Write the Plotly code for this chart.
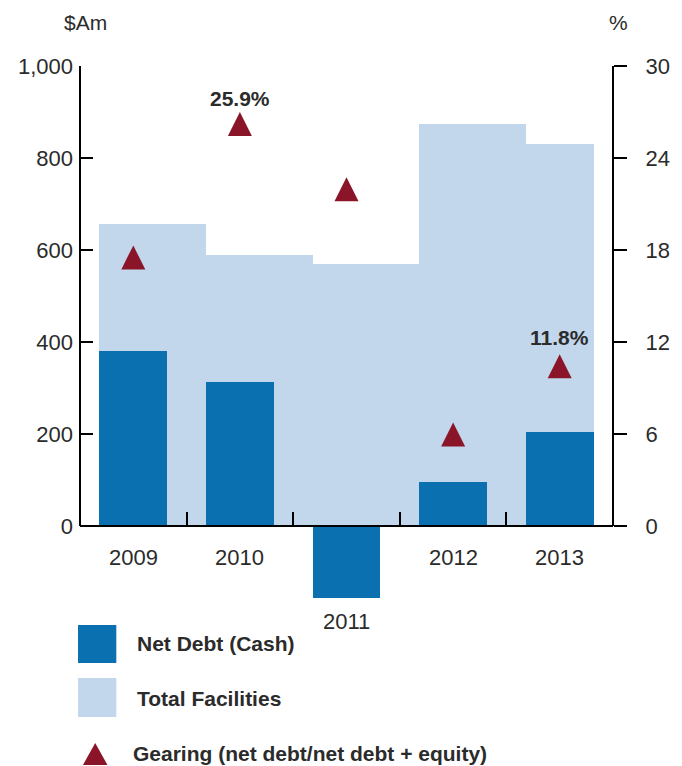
import plotly.graph_objects as go

# ---- data ----
years = ["2009", "2010", "2011", "2012", "2013"]
net_debt = [381, 312, -157, 95, 205]            # $Am
total_facilities = [657, 589, 570, 875, 831]    # $Am
gearing = [18.3, 27.0, 22.75, 6.75, 11.2]       # % (read at triangle tip)
gearing_labels = {1: "25.9%", 4: "11.8%"}
left_ticks = [0, 200, 400, 600, 800, 1000]
left_ticktext = ["0", "200", "400", "600", "800", "1,000"]
right_ticks = [0, 6, 12, 18, 24, 30]

# ---- style ----
DARK = "#0a70b0"
LIGHT = "#c2d7ec"
RED = "#8a1529"
TXT = "#2b2b2b"
FONT = "Liberation Sans, Arial, sans-serif"

W, Hfig = 682, 766
# on-screen plot area: x 80..623, y 66..618
L, T = 80, 66
R = W - 623
B = Hfig - 618
PW, PH = W - L - R, Hfig - T - B

def px_x(px):
    return (px - L) / PW

def px_y(py):
    return (T + PH - py) / PH

n = len(years)
xs = list(range(n))
bw = 0.635
light_w = [1.0] * (n - 1) + [bw]

fig = go.Figure()
fig.add_trace(go.Bar(x=xs, y=total_facilities, width=light_w, offset=-bw / 2,
                     marker=dict(color=LIGHT, line=dict(width=0)),
                     name="Total Facilities", showlegend=False))
fig.add_trace(go.Bar(x=xs, y=net_debt, width=bw,
                     marker=dict(color=DARK, line=dict(width=0)),
                     name="Net Debt (Cash)", showlegend=False))
fig.add_trace(go.Scatter(x=xs, y=gearing, mode="markers", yaxis="y2",
                         marker=dict(symbol="arrow-up", size=24, color=RED,
                                     line=dict(width=0)),
                         name="Gearing", showlegend=False, cliponaxis=False))

ymin, ymax = -200, 1000
y2min, y2max = -6, 30

fig.update_layout(
    width=W, height=Hfig,
    margin=dict(l=L, r=R, t=T, b=B, pad=0),
    paper_bgcolor="white", plot_bgcolor="white",
    barmode="overlay", bargap=0,
    font=dict(family=FONT, color=TXT, size=22),
    xaxis=dict(range=[-0.5, 4.5], anchor="free",
               position=(0 - ymin) / (ymax - ymin),
               showline=True, linecolor="black", linewidth=2,
               tickmode="array", tickvals=[i + 0.5 for i in range(n - 1)],
               ticks="inside", ticklen=13, tickwidth=2, tickcolor="black",
               showticklabels=False, showgrid=False, zeroline=False),
    yaxis=dict(range=[ymin, ymax], tickmode="array", tickvals=left_ticks,
               ticktext=left_ticktext, ticks="inside", ticklen=13,
               tickwidth=2, tickcolor="black", showline=False,
               showgrid=False, zeroline=False, ticklabelstandoff=6,
               tickfont=dict(size=22, color=TXT)),
    yaxis2=dict(range=[y2min, y2max], overlaying="y", side="right",
                tickmode="array", tickvals=right_ticks, ticks="outside",
                ticklen=13, tickwidth=2, tickcolor="black", showline=False,
                showgrid=False, zeroline=False, ticklabelstandoff=14,
                tickfont=dict(size=22, color=TXT)),
)

# axis lines limited to 0..max
fig.add_shape(type="line", xref="paper", yref="y", x0=0, x1=0, y0=0, y1=ymax,
              line=dict(color="black", width=2), layer="above")
fig.add_shape(type="line", xref="paper", yref="y", x0=1, x1=1, y0=0, y1=ymax,
              line=dict(color="black", width=2), layer="above")

# year labels
for i, yr in enumerate(years):
    if net_debt[i] < 0:
        fig.add_annotation(x=i, y=net_debt[i], xref="x", yref="y", text=yr,
                           showarrow=False, yanchor="middle", yshift=-23,
                           font=dict(size=22, color=TXT))
    else:
        fig.add_annotation(x=i, y=0, xref="x", yref="y", text=yr,
                           showarrow=False, yanchor="middle", yshift=-31,
                           font=dict(size=22, color=TXT))

# gearing value labels
for i, lab in gearing_labels.items():
    fig.add_annotation(x=i, y=gearing[i], xref="x", yref="y2", text="<b>" + lab + "</b>",
                       showarrow=False, yanchor="middle",
                       yshift=14 if i == 1 else 17,
                       font=dict(size=21, color=TXT))

# axis titles
fig.add_annotation(x=px_x(86), y=px_y(22), xref="paper", yref="paper", text="$Am",
                   showarrow=False, xanchor="center", yanchor="middle",
                   font=dict(size=21, color=TXT))
fig.add_annotation(x=px_x(629), y=px_y(22), xref="paper", yref="paper", text="%",
                   showarrow=False, xanchor="center", yanchor="middle",
                   font=dict(size=21, color=TXT))

# custom legend
fig.add_shape(type="rect", xref="paper", yref="paper",
              x0=px_x(78), x1=px_x(117), y0=px_y(663), y1=px_y(625),
              fillcolor=DARK, line=dict(width=0))
fig.add_shape(type="rect", xref="paper", yref="paper",
              x0=px_x(78), x1=px_x(117), y0=px_y(717), y1=px_y(678),
              fillcolor=LIGHT, line=dict(width=0))
fig.add_shape(type="path", xref="paper", yref="paper",
              path="M {0},{1} L {2},{1} L {3},{4} Z".format(
                  px_x(83), px_y(765), px_x(108), px_x(95.5), px_y(743)),
              fillcolor=RED, line=dict(width=0))
legend_items = [("Net Debt (Cash)", 136, 643),
                ("Total Facilities", 136, 698),
                ("Gearing (net debt/net debt + equity)", 132, 753)]
for txt, lx, ly in legend_items:
    fig.add_annotation(x=px_x(lx), y=px_y(ly), xref="paper", yref="paper",
                       text="<b>" + txt + "</b>", showarrow=False,
                       xanchor="left", yanchor="middle",
                       font=dict(size=21, color=TXT))

fig.write_html("out.html",
               config={"displayModeBar": False},
               post_script="document.body.style.margin='0';"
                           "document.body.style.overflow='hidden';")
